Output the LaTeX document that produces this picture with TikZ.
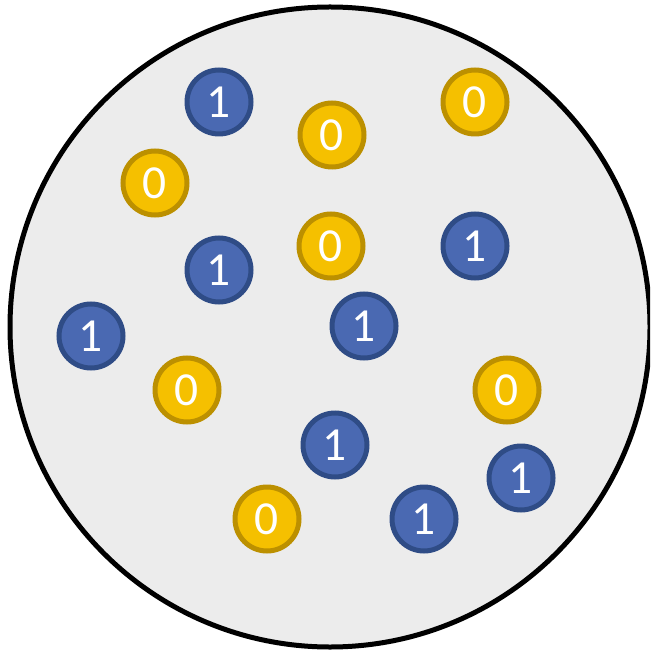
\documentclass[tikz,border=0pt]{standalone}
\usepackage{fontspec}
\setmainfont{Carlito}
\definecolor{bluefill}{HTML}{4A69B2}
\definecolor{blueline}{HTML}{2F4C86}
\definecolor{goldfill}{HTML}{F5C000}
\definecolor{goldline}{HTML}{BC9000}
\definecolor{bowlgray}{HTML}{ECECEC}

\begin{document}
\begin{tikzpicture}[x=0.02cm, y=-0.02cm,
    one/.style={circle, draw=blueline, fill=bluefill, line width=5*0.02cm, minimum size=64*0.02cm, inner sep=0pt, text=white, font=\fontsize{27}{27}\selectfont},
    zero/.style={circle, draw=goldline, fill=goldfill, line width=5*0.02cm, minimum size=64*0.02cm, inner sep=0pt, text=white, font=\fontsize{27}{27}\selectfont}]
    \useasboundingbox (0,0) rectangle (650,651);
    \clip (0,0) rectangle (650,651);

    % the bowl
    \draw [fill=bowlgray, line width=5*0.02cm] (330,327) circle [radius=320*0.02cm];

    % ones
    \node [one] (a1) at (219,102) {1};
    \node [one] (a2) at (219,270) {1};
    \node [one] (a3) at (91,336) {1};
    \node [one] (a4) at (364,326) {1};
    \node [one] (a5) at (475,246) {1};
    \node [one] (a6) at (335,445) {1};
    \node [one] (a7) at (521,478) {1};
    \node [one] (a8) at (424,519) {1};

    % zeros
    \node [zero] (b1) at (332,135) {0};
    \node [zero] (b2) at (475,102) {0};
    \node [zero] (b3) at (155,183) {0};
    \node [zero] (b4) at (331,246) {0};
    \node [zero] (b5) at (187,390) {0};
    \node [zero] (b6) at (507,390) {0};
    \node [zero] (b7) at (267,519) {0};
\end{tikzpicture}
\end{document}
